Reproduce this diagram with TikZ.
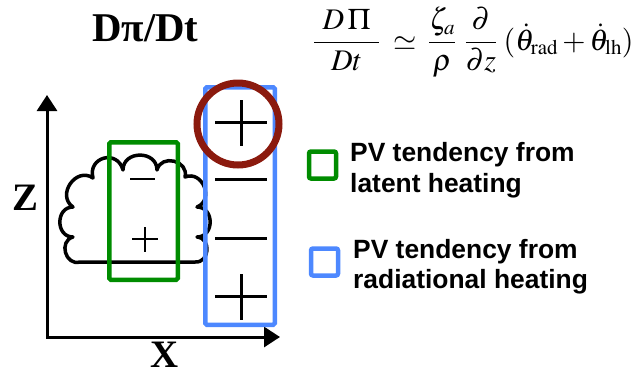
\documentclass[tikz,border=0pt]{standalone}
\usepackage{mathptmx}
\usepackage[no-math]{fontspec}
\setmainfont{Liberation Serif}
\newfontfamily\legendsans{Liberation Sans}
\usetikzlibrary{arrows.meta}
\DeclareMathSizes{30}{30}{21}{16}

\definecolor{lhgreen}{RGB}{0,140,0}
\definecolor{radblue}{RGB}{77,136,255}
\definecolor{ringred}{RGB}{139,26,14}

\begin{document}
\begin{tikzpicture}[x=1bp,y=-1bp,
  axisline/.style={line width=3bp, line join=miter,
    {Triangle[width=20bp,length=16bp]}-{Triangle[width=20bp,length=16bp]}},
  signline/.style={line width=3bp},
  smallsign/.style={line width=2.6bp},
  heatbox/.style={draw, line width=4.5bp, rounded corners=1.5bp, inner sep=0pt},
  keybox/.style={draw, line width=4.5bp, rounded corners=2bp, inner sep=0pt,
    minimum width=27bp, minimum height=27bp},
  cloudline/.style={line width=3.5bp, line join=round, line cap=round},
  bump/.style={bend left=90, looseness=1.5},
  axislabel/.style={anchor=base west, inner sep=0pt,
    font=\bfseries\fontsize{39}{46}\selectfont},
  legendtext/.style={anchor=base west, inner sep=0pt,
    font=\legendsans\bfseries\fontsize{26.5}{31}\selectfont}]
\useasboundingbox (0,0) rectangle (631,374);

% title and tendency equation
\node[anchor=base west, inner sep=0pt, font=\bfseries\fontsize{41}{48}\selectfont]
  (title) at (92,41) {Dπ/Dt};
\node[anchor=base west, inner sep=0pt, font=\fontsize{30}{35}\selectfont]
  (pveq) at (313,50)
  {$\displaystyle \frac{\mkern5mu D\mkern2mu\Pi\mkern5mu}{Dt}\mkern4mu\simeq\mkern3mu\frac{\zeta_a}{\rho}\mkern5mu\frac{\partial}{\partial z}
   \mkern4mu(\dot\theta_{\mathrm{rad}}+\dot\theta_{\mathrm{lh}}),$};

% axes
\coordinate (origin) at (47,337);
\coordinate (ztip) at (47,95);
\coordinate (xtip) at (280,337);
\draw[axisline] (ztip) -- (origin) -- (xtip);
\node[axislabel] (zlab) at (12,210) {Z};
\node[axislabel] (xlab) at (150,367) {X};

% convective cloud outline
\draw[cloudline]
  (80,262) to[bump] (73,237) to[bump] (73,207) to[bump] (93,178)
  to[bump, looseness=1.8] (123,170) to[bump] (157,170) to[bump] (185,177)
  to[bump] (197,207) to[bump] (197,237) to[bump] (195,262) -- cycle;

% latent heating: signs and box
\draw[smallsign] (130,179) -- (155,179);
\draw[smallsign] (132,239) -- (158,239) (145,227) -- (145,252);
\node[heatbox, draw=lhgreen, minimum width=68.5bp, minimum height=137.5bp]
  (lhbox) at (143.5,211) {};

% radiational heating: signs and box
\draw[signline] (215,122) -- (267,122) (241,100) -- (241,146);
\draw[signline] (215,179) -- (267,179);
\draw[signline] (215,238) -- (267,238);
\draw[signline] (215,296) -- (267,296) (241,274) -- (241,320);
\node[heatbox, draw=radblue, minimum width=69.5bp, minimum height=237.5bp]
  (radbox) at (240,206) {};

% highlight ring
\node[draw=ringred, circle, line width=7bp, minimum size=82bp, inner sep=0pt]
  (ring) at (238,124) {};

% legend
\node[keybox, draw=lhgreen] (lhkey) at (322.5,165) {};
\node[legendtext] (lhtext1) at (350,161) {PV tendency from};
\node[legendtext] (lhtext2) at (350,192) {latent heating};
\node[keybox, draw=radblue] (radkey) at (324.5,262) {};
\node[legendtext] (radtext1) at (353,258) {PV tendency from};
\node[legendtext] (radtext2) at (353,288) {radiational heating};
\end{tikzpicture}
\end{document}
